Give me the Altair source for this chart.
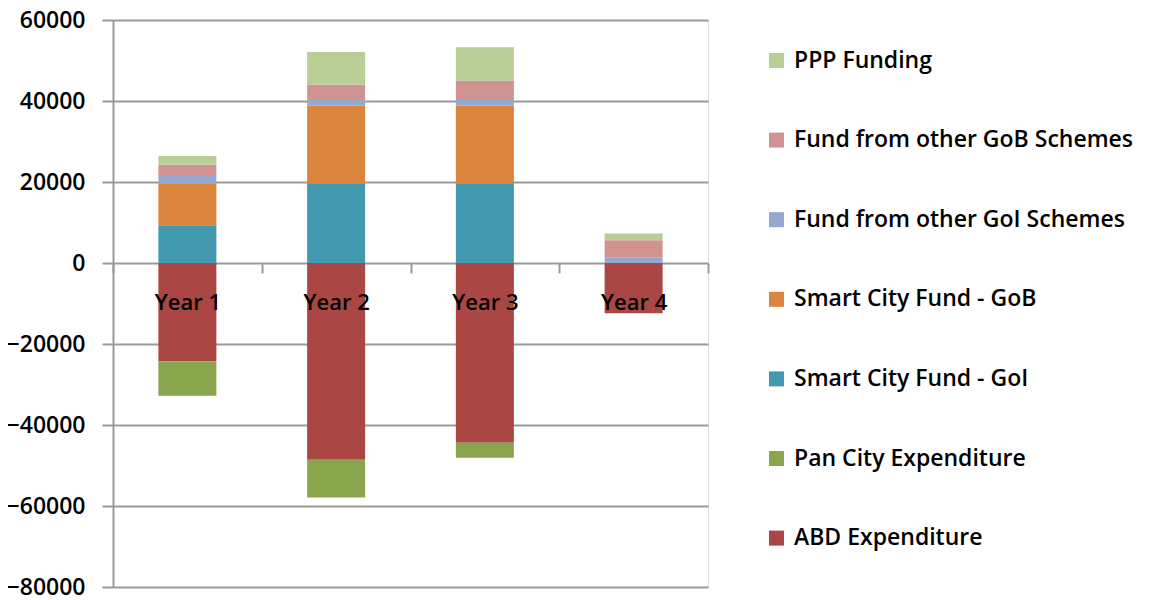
import altair as alt
import pandas as pd

years = ["Year 1", "Year 2", "Year 3", "Year 4"]

# series in legend order (top to bottom)
series_legend = [
    "PPP Funding",
    "Fund from other GoB Schemes",
    "Fund from other GoI Schemes",
    "Smart City Fund - GoB",
    "Smart City Fund - GoI",
    "Pan City Expenditure",
    "ABD Expenditure",
]
colors_legend = ["#B9CD96", "#D19392", "#93A9CF", "#DB843D", "#4198AF", "#89A54E", "#AA4643"]

abd = [-24300, -48600, -44400, -12400]
pan = [-8500, -9300, -3700, 0]
scf_goi = [9300, 19700, 19700, 0]
scf_gob = [10200, 19100, 19100, 0]
other_goi = [2000, 1700, 1700, 1300]
other_gob = [2800, 3600, 4500, 4300]
ppp = [2100, 8000, 8300, 1700]

# stacking order from zero outwards
stack_series = [
    ("ABD Expenditure", abd),
    ("Pan City Expenditure", pan),
    ("Smart City Fund - GoI", scf_goi),
    ("Smart City Fund - GoB", scf_gob),
    ("Fund from other GoI Schemes", other_goi),
    ("Fund from other GoB Schemes", other_gob),
    ("PPP Funding", ppp),
]

rows = []
for k, (name, vals) in enumerate(stack_series):
    for y, v in zip(years, vals):
        if v != 0:
            rows.append({"Year": y, "Series": name, "Value": v, "ord": k})
df = pd.DataFrame(rows)

W, H = 595, 567
FONT = "Open Sans"
WEIGHT = 600
GRID = "#9a9a9a"

chart = alt.Chart(df).mark_bar(size=58).encode(
    x=alt.X(
        "Year:N",
        sort=years,
        scale=alt.Scale(paddingInner=0, paddingOuter=0),
        axis=alt.Axis(
            title=None,
            labelAngle=0,
            domain=False,
            ticks=True,
            tickBand="extent",
            tickSize=10,
            tickColor=GRID,
            tickWidth=2,
            labelPadding=19,
            labelFontSize=22,
            labelFont=FONT,
            labelFontWeight=WEIGHT,
            labelColor="#000000",
            offset=-(H * 80 / 140),
            zindex=1,
        ),
    ),
    y=alt.Y(
        "Value:Q",
        stack="zero",
        scale=alt.Scale(domain=[-80000, 60000], nice=False),
        axis=alt.Axis(
            title=None,
            values=[-80000, -60000, -40000, -20000, 0, 20000, 40000, 60000],
            format="d",
            grid=True,
            gridColor=GRID,
            gridWidth=2,
            domainColor=GRID,
            domainWidth=2,
            tickColor=GRID,
            tickWidth=2,
            tickSize=11,
            labelPadding=17,
            labelFontSize=23,
            labelFont=FONT,
            labelFontWeight=WEIGHT,
            labelColor="#000000",
        ),
    ),
    color=alt.Color(
        "Series:N",
        scale=alt.Scale(domain=series_legend, range=colors_legend),
        legend=alt.Legend(
            title=None,
            orient="none",
            legendX=652,
            legendY=29,
            padding=0,
            symbolType="square",
            symbolSize=225,
            symbolStrokeWidth=0,
            symbolOpacity=1,
            labelFontSize=23,
            labelFont=FONT,
            labelFontWeight=WEIGHT,
            labelColor="#000000",
            labelOffset=6,
            rowPadding=55.6,
            labelLimit=420,
        ),
    ),
    order=alt.Order("ord:Q", sort="ascending"),
).properties(
    width=W,
    height=H,
    autosize=alt.AutoSizeParams(type="none"),
    padding={"left": 105, "top": 12, "right": 430, "bottom": 11},
).configure_view(stroke=None).configure(background="white")

chart.save("out.html", embed_options={"renderer": "svg", "actions": False})
